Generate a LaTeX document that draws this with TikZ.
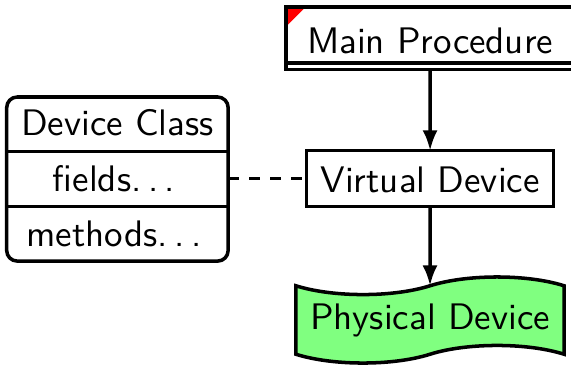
\documentclass[tikz,border=0pt]{standalone}
\usetikzlibrary{shapes.symbols,arrows.meta}
% spaced ellipsis, three dots with a small gap after each
\newcommand\spdots{.\kern.18em.\kern.18em.\kern.18em}
\begin{document}
\begin{tikzpicture}[x=0.01cm,y=-0.01cm,
  line width=1pt,
  font=\sffamily\fontsize{10.5}{12.6}\selectfont,
  box/.style={draw,rectangle,inner xsep=0pt,inner ysep=0pt,outer sep=0pt,anchor=north west},
  link/.style={-{Latex[length=5.8pt,width=4.3pt]}},
  lbl/.style={inner sep=0pt,anchor=base}]
\useasboundingbox (0,0) rectangle (571,364);

% main procedure: red corner flag, box with doubled lower edge
\fill[red] (285,5.6) -- (307,5.6) -- (285,27.6) -- cycle;
\node[box,minimum width=2.88cm,text height=0.46cm,text depth=0.10cm,
      text width=2.88cm,align=center] (main) at (286,7) {Main Procedure};
\coordinate (mainlow) at (430,69.5);
\draw (main.south west) -- (main.south west |- mainlow) -- (main.south east |- mainlow) -- (main.south east);

% virtual device
\node[box,minimum width=2.466cm,text height=0.42cm,text depth=0.14cm,
      text width=2.466cm,align=center] (virt) at (306.7,150.7) {Virtual Device};

% physical device on a tape
\node[draw,shape=tape,fill=green!50,minimum width=2.68cm,minimum height=0.86cm,
      inner sep=0pt,outer sep=0pt] (phys) at (430,320) {Physical Device};

% device class, split into three parts
\node[draw,rectangle,rounded corners=3pt,minimum width=2.213cm,minimum height=1.64cm,
      inner sep=0pt,outer sep=0pt,anchor=north west] (dc) at (6.7,97) {};
\draw (dc.west |- 0,151.7) -- (dc.east |- 0,151.7);
\draw (dc.west |- 0,206.7) -- (dc.east |- 0,206.7);
\node[lbl] (dcname) at (117.4,135) {Device Class};
\node[lbl] (dcfields) at (117.4,191.7) {fields\spdots};
\node[lbl] (dcmethods) at (117.4,246.7) {methods\spdots};

% connectors
\draw[dashed] (dc.east |- virt.west) -- (virt.west);
\draw[link] (main.south |- mainlow) -- (virt.north);
\draw[link] (virt.south) -- (phys.north);
\end{tikzpicture}
\end{document}
